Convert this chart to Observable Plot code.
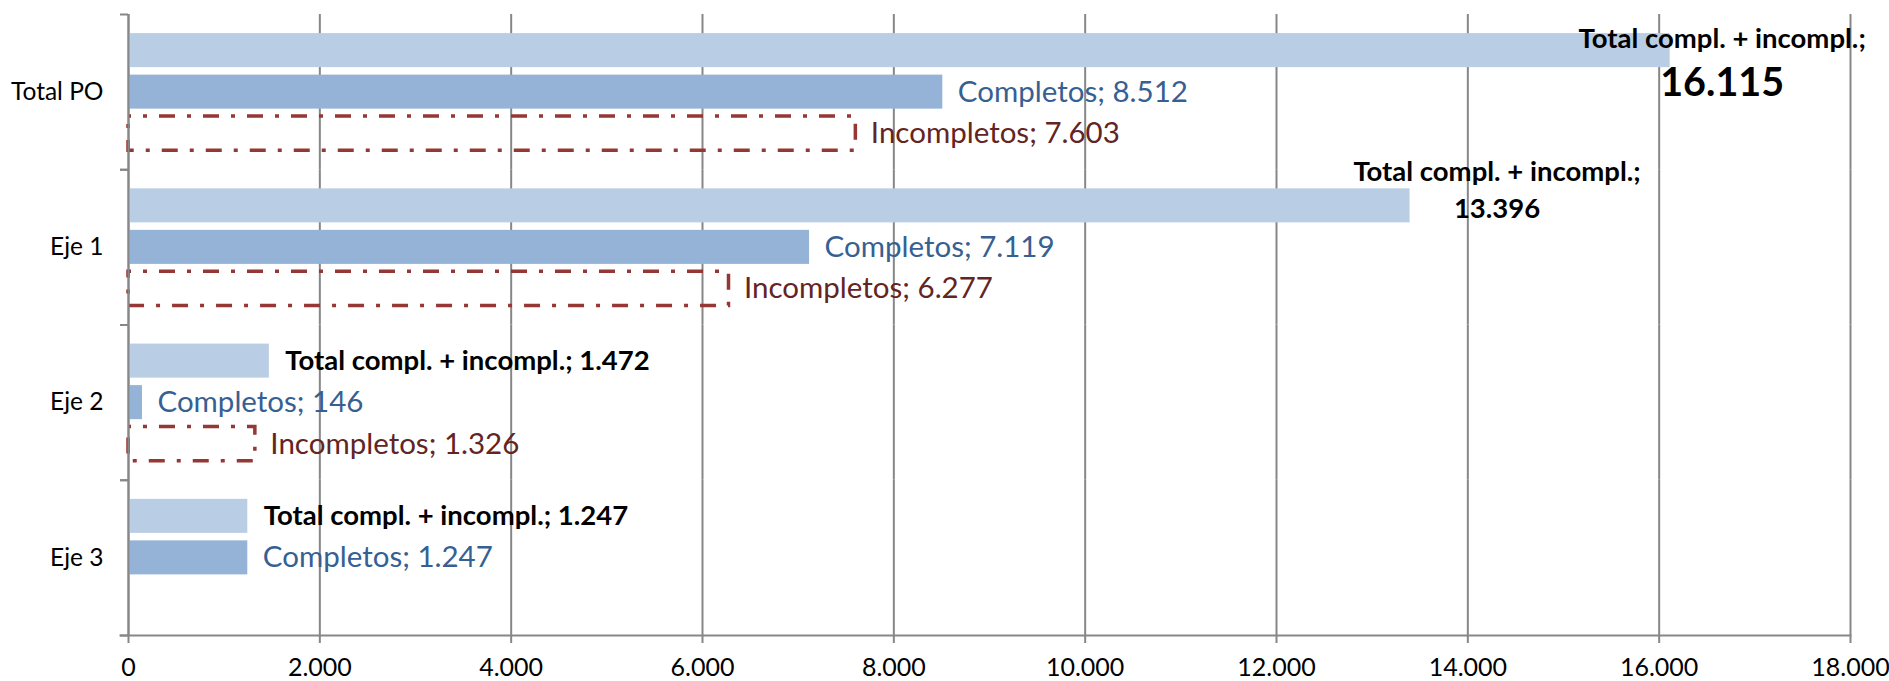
<!DOCTYPE html>
<html>
<head>
<meta charset="utf-8">
<script src="https://cdn.jsdelivr.net/npm/d3@7"></script>
<script src="https://cdn.jsdelivr.net/npm/@observablehq/plot@0.6"></script>
<style>
  html, body { margin: 0; padding: 0; background: #ffffff; }
  #chart { width: 1889px; height: 681px; }
</style>
</head>
<body>
<div id="chart"></div>
<script>
// ---- Data ----
const categories = ["Total PO", "Eje 1", "Eje 2", "Eje 3"];
const seriesNames = ["Total compl. + incompl.", "Completos", "Incompletos"];
const totalValues = [16115, 13396, 1472, 1247];
const completosValues = [8512, 7119, 146, 1247];
const incompletosValues = [7603, 6277, 1326, 0];
const xTickValues = [0, 2000, 4000, 6000, 8000, 10000, 12000, 14000, 16000, 18000];

// ---- Build table ----
const seriesValues = [totalValues, completosValues, incompletosValues];
const rows = categories.flatMap((cat, i) =>
  seriesNames.map((serie, s) => ({cat, serie, s, i, value: seriesValues[s][i]}))
).filter(d => d.value > 0);

const locale = d3.formatLocale({decimal: ",", thousands: ".", grouping: [3], currency: ["", "€"]});
const fmt = locale.format(",d");

const W = 1889, H = 681;
const mTop = 14, mBottom = 46, mLeft = 128, mRight = 39;
const facetH = (H - mTop - mBottom) / categories.length;

const gridColor = "#878787";
const FONT = "Lato";
const labelSize = 29.5, totalSize = 27.5, axisSize = 25;

const totRows = rows.filter(d => d.s === 0);
const compRows = rows.filter(d => d.s === 1);
const incRows = rows.filter(d => d.s === 2);

// total labels: two-line for the two large groups, single-line otherwise
const twoLine = {
  "Total PO": {dx: 52, dy1: -11, dy2: 33, size2: 39.5},
  "Eje 1": {dx: 87, dy1: -34, dy2: 3, size2: totalSize}
};

const marks = [
  Plot.gridX(xTickValues, {stroke: gridColor, strokeOpacity: 1, strokeWidth: 2}),
  Plot.barX(totRows, {x: "value", y: "serie", fy: "cat", fill: "#B9CDE5"}),
  Plot.barX(compRows, {x: "value", y: "serie", fy: "cat", fill: "#95B3D7"}),
  Plot.barX(incRows, {x: "value", y: "serie", fy: "cat", fill: "none", stroke: "#953735",
    strokeWidth: 3.5, strokeDasharray: "16,12,4,12", strokeDashoffset: 13}),
  Plot.ruleX([0], {stroke: gridColor, strokeWidth: 2}),
  Plot.frame({anchor: "bottom", facetAnchor: "bottom", stroke: gridColor, strokeWidth: 2, insetLeft: -8}),
  Plot.axisFy({anchor: "left", tickSize: 0, tickPadding: 25, label: null, fontSize: 24.5, fontFamily: FONT, fill: "#000"}),
  Plot.axisFy({anchor: "left", tickSize: 8, text: null, label: null, dy: -facetH / 2, stroke: gridColor, strokeWidth: 2}),
  Plot.axisFy({anchor: "left", tickSize: 8, text: null, label: null, dy: facetH / 2, stroke: gridColor, strokeWidth: 2}),
  Plot.axisX({ticks: xTickValues, tickSize: 8, tickPadding: 15, tickFormat: fmt, label: null,
    fontSize: axisSize, fontFamily: FONT, fill: "#000", stroke: gridColor, strokeWidth: 2}),
  Plot.text(compRows, {x: "value", y: "serie", fy: "cat", text: d => `${d.serie}; ${fmt(d.value)}`,
    textAnchor: "start", dx: 15, fill: "#376092", fontSize: labelSize, fontFamily: FONT}),
  Plot.text(incRows, {x: "value", y: "serie", fy: "cat", text: d => `${d.serie}; ${fmt(d.value)}`,
    textAnchor: "start", dx: 15, fill: "#632523", fontSize: labelSize, fontFamily: FONT}),
  Plot.text(totRows.filter(d => !twoLine[d.cat]), {x: "value", y: "serie", fy: "cat",
    text: d => `${d.serie}; ${fmt(d.value)}`, textAnchor: "start", dx: 16,
    fill: "#000", fontSize: totalSize, fontWeight: "bold", fontFamily: FONT})
];

for (const [cat, o] of Object.entries(twoLine)) {
  const data = totRows.filter(d => d.cat === cat);
  marks.push(
    Plot.text(data, {x: "value", y: "serie", fy: "cat", text: d => `${d.serie};`,
      textAnchor: "middle", dx: o.dx, dy: o.dy1, fill: "#000", fontSize: totalSize, fontWeight: "bold", fontFamily: FONT}),
    Plot.text(data, {x: "value", y: "serie", fy: "cat", text: d => fmt(d.value),
      textAnchor: "middle", dx: o.dx, dy: o.dy2, fill: "#000", fontSize: o.size2, fontWeight: "bold", fontFamily: FONT})
  );
}

const chart = Plot.plot({
  width: W,
  height: H,
  marginTop: mTop,
  marginBottom: mBottom,
  marginLeft: mLeft,
  marginRight: mRight,
  style: {fontFamily: FONT, background: "#ffffff", color: "#000"},
  x: {domain: [0, 18000]},
  y: {domain: seriesNames, paddingInner: 0.18, paddingOuter: 0.46, axis: null, round: false},
  fy: {domain: categories, padding: 0, label: null, round: false},
  marks
});

document.getElementById("chart").appendChild(chart);
</script>
</body>
</html>
